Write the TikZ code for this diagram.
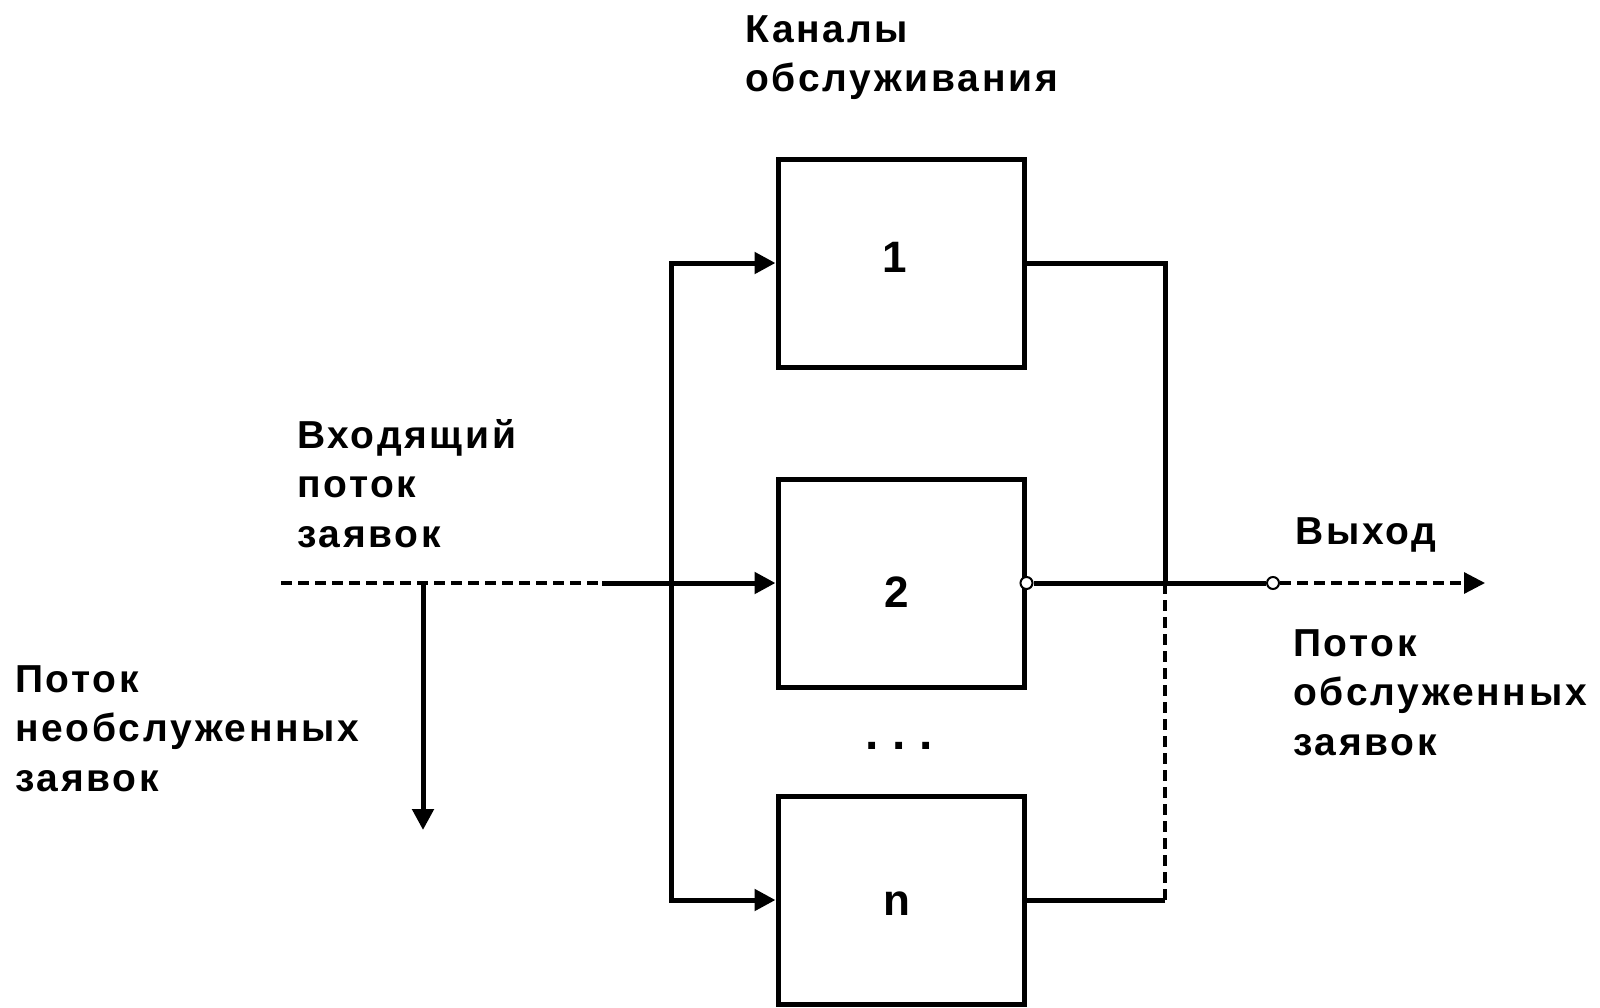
\documentclass[tikz,border=0pt]{standalone}
\usepackage{fontspec}
\setmainfont{Liberation Sans}
\usetikzlibrary{arrows.meta}
\begin{document}
\begin{tikzpicture}[x=1pt,y=-1pt,
  chan/.style={draw, line width=5pt, minimum width=246pt, minimum height=208pt, inner sep=0pt,
    font=\fontsize{44}{50}\selectfont\bfseries},
  wire/.style={line width=5pt},
  dwire/.style={line width=3.2pt, dash pattern=on 11pt off 6pt},
  tip/.style={-{Triangle[length=21pt,width=21pt]}},
  lbl/.style={anchor=north west, inner sep=0pt, align=left,
    font=\fontsize{39}{49.5}\selectfont\bfseries\addfontfeatures{LetterSpace=7}},
  joint/.style={circle, draw, line width=2pt, fill=white, minimum size=12pt, inner sep=0pt}]
\useasboundingbox (0,0) rectangle (1600,1007);

\node[chan] (b1) at (901,263) {\kern-12pt\smash{\raisebox{-9.5pt}{1}}};
\node[chan] (b2) at (901,583) {\kern-8pt\smash{\raisebox{-24.5pt}{2}}};
\node[chan] (bn) at (901,900) {\kern-8pt\smash{\raisebox{-15.5pt}{n}}};
\node[anchor=base, inner sep=0pt, font=\fontsize{48}{50}\selectfont\bfseries] (dots) at (899,749) {.\hspace{14pt}.\hspace{14pt}.};

\coordinate (in) at (281,583);
\coordinate (split) at (602,583);
\coordinate (drop) at (423,583);
\coordinate (dropend) at (423,830);
\coordinate (bl1) at (671,263);
\coordinate (bln) at (671,900);
\coordinate (br1) at (1165,263);
\coordinate (brm) at (1165,583);
\coordinate (brn) at (1165,900);
\coordinate (outend) at (1485,583);

% input flow
\draw[dwire] (in) -- (split);
\draw[wire, tip] (split) -- (b2.west);
\draw[wire, tip] (drop) -- (dropend);

% left bus
\draw[wire, line join=miter, {Triangle[length=21pt,width=21pt]}-{Triangle[length=21pt,width=21pt]}]
  (b1.west) -- (bl1) -- (bln) -- (bn.west);

% right bus
\draw[wire, line join=miter] (b1.east) -- (br1) -- (brm);
\draw[dwire] (brm) -- (brn);
\draw[wire] (brn) -- (bn.east);

% output
\node[joint] (c1) at (b2.east) {};
\node[joint] (c2) at (1273,583) {};
\draw[wire] (c1) -- (c2);
\draw[dwire, -{Triangle[length=21pt,width=21pt]}] (c2) -- (outend);

% labels
\node[lbl] (lchan) at (745,15) {Каналы\\обслуживания};
\node[lbl] (lin) at (297,419) {Входящий\\поток\\заявок};
\node[lbl] (lrej) at (15,665) {Поток\\необслуженных\\заявок};
\node[lbl] (lout) at (1295,517) {Выход};
\node[lbl] (lserv) at (1293,629) {Поток\\обслуженных\\заявок};
\end{tikzpicture}
\end{document}
